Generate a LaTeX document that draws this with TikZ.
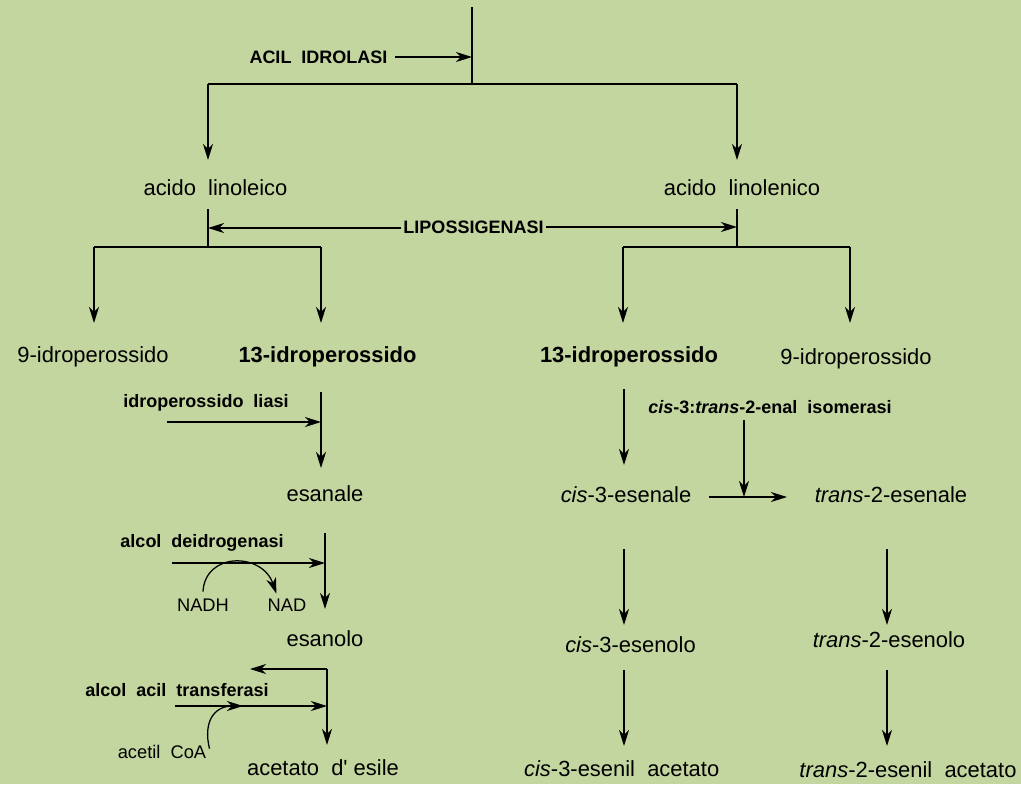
\documentclass[tikz,border=0pt]{standalone}
\usepackage{fontspec}
\setmainfont{Liberation Sans}
\usepackage{tikz}
\usetikzlibrary{arrows.meta,positioning,calc}
\definecolor{leafbg}{HTML}{C4D69F}
\tikzset{
  chemnode/.style={
    inner sep=0pt,
    text height=0.72em,
    text depth=0pt,
    font=\fontsize{15.6}{18}\selectfont
  },
  enzymenode/.style={
    inner sep=0pt,
    text height=0.72em,
    text depth=0pt,
    font=\bfseries\fontsize{12.8}{15}\selectfont
  },
  cofactornode/.style={
    inner sep=0pt,
    text height=0.72em,
    text depth=0pt,
    font=\fontsize{13}{15}\selectfont
  },
  reaction/.style={-{Stealth[length=4mm,width=2.5mm,inset=1.2mm]},line width=0.9pt,draw=black},
  branch/.style={line width=0.9pt,draw=black}
}

\begin{document}
\begin{tikzpicture}[x=0.025cm,y=-0.025cm]
  \fill[leafbg] (0,0) rectangle (1021,784);
  \useasboundingbox (0,0) rectangle (1021,784);

  % substrates
  \node[enzymenode] (acil) at (318.5,58) {ACIL~~IDROLASI};
  \node[chemnode] (linoleico) at (215.5,190) {acido~~linoleico};
  \node[chemnode] (linolenico) at (742,190) {acido~~linolenico};
  \node[enzymenode] (lox) at (473.5,228) {LIPOSSIGENASI};

  % hydroperoxides
  \node[chemnode] (hpninea) at (93,357) {9-idroperossido};
  \node[chemnode,font=\bfseries\fontsize{15.6}{18}\selectfont] (hptredicia) at (327.5,357) {13-idroperossido};
  \node[chemnode,font=\bfseries\fontsize{15.6}{18}\selectfont] (hptredicib) at (629,357) {13-idroperossido};
  \node[chemnode] (hpnineb) at (856,359) {9-idroperossido};

  % left branch
  \node[enzymenode] (liasi) at (206,402) {idroperossido~~liasi};
  \node[chemnode] (esanale) at (325,496) {esanale};
  \node[enzymenode] (adh) at (202,542) {alcol~~deidrogenasi};
  \node[cofactornode] (nadh) at (203,606) {NADH};
  \node[cofactornode] (nad) at (287,606) {NAD};
  \node[chemnode] (esanolo) at (325,641) {esanolo};
  \node[enzymenode] (aat) at (177,691) {alcol~~acil~~transferasi};
  \node[cofactornode] (acetilcoa) at (162,753) {acetil~~CoA};
  \node[chemnode] (esile) at (323,770) {acetato~~d\textquotesingle~esile};

  % right branch
  \node[enzymenode] (isomerasi) at (770,408) {\textit{cis}-3:\textit{trans}-2-enal~~isomerasi};
  \node[chemnode] (cisal) at (626,497) {\textit{cis}-3-esenale};
  \node[chemnode] (transal) at (891,497) {\textit{trans}-2-esenale};
  \node[chemnode] (cisol) at (630.5,647) {\textit{cis}-3-esenolo};
  \node[chemnode] (transol) at (889,642) {\textit{trans}-2-esenolo};
  \node[chemnode] (cisac) at (621.7,771) {\textit{cis}-3-esenil~~acetato};
  \node[chemnode] (transac) at (908,772) {\textit{trans}-2-esenil~~acetato};

  % junctions
  \coordinate (src) at (472,7);
  \coordinate (forktop) at (472,84);
  \coordinate (forkL) at (208,84);
  \coordinate (forkR) at (737,84);
  \coordinate (loxL) at (208,209);
  \coordinate (splitL) at (208,247);
  \coordinate (loxR) at (737,209);
  \coordinate (splitR) at (737,247);

  \draw[branch] (src) -- (forktop);
  \draw[reaction] ($(acil.east)+(7,-1)$) -- ($(acil.east -| forktop)+(0,-1)$);
  \draw[branch] (forkL) -- (forkR);
  \draw[reaction] (forkL) -- ++(0,76);
  \draw[reaction] (forkR) -- ++(0,76);

  \draw[branch] (loxL) -- (splitL);
  \draw[branch] (loxR) -- (splitR);
  \draw[reaction] ($(lox.west)+(-2,0)$) -- (lox.west -| loxL);
  \draw[reaction] ($(lox.east)+(2,-1)$) -- ($(lox.east -| loxR)+(0,-1)$);
  \draw[branch] (94,247) -- (321,247);
  \draw[reaction] (94,247) -- ++(0,76);
  \draw[reaction] (321,247) -- ++(0,76);
  \draw[branch] (623,247) -- (850,247);
  \draw[reaction] (623,247) -- ++(0,76);
  \draw[reaction] (850,247) -- ++(0,76);

  % left chain
  \draw[reaction] (321,392) -- (321,468);
  \draw[reaction] (167,422) -- (321,422);
  \draw[reaction] (325,533) -- (325,609);
  \draw[reaction] (172,563) -- (325,563);
  \draw[reaction] ($(nadh.north)+(0,-9)$) .. controls (205,552) and (262,552) .. ($(nad.north west)+(9,-7)$);
  \draw[reaction] (327,669) -- (327,745);
  \draw[reaction] (327,669) -- (250,669);
  \draw[reaction] (175,706) -- (327,706);
  \draw[reaction] ($(acetilcoa.north east)+(3,1)$) .. controls (203,722) and (214,706) .. (243,706);

  % right chain
  \draw[reaction] (624,389) -- (624,465);
  \draw[reaction] (744,420) -- (744,497);
  \draw[reaction] (709,497) -- (787,497);
  \draw[reaction] (624,549) -- (624,625);
  \draw[reaction] (624,670) -- (624,746);
  \draw[reaction] (887,549) -- (887,625);
  \draw[reaction] (887,670) -- (887,746);
\end{tikzpicture}
\end{document}
